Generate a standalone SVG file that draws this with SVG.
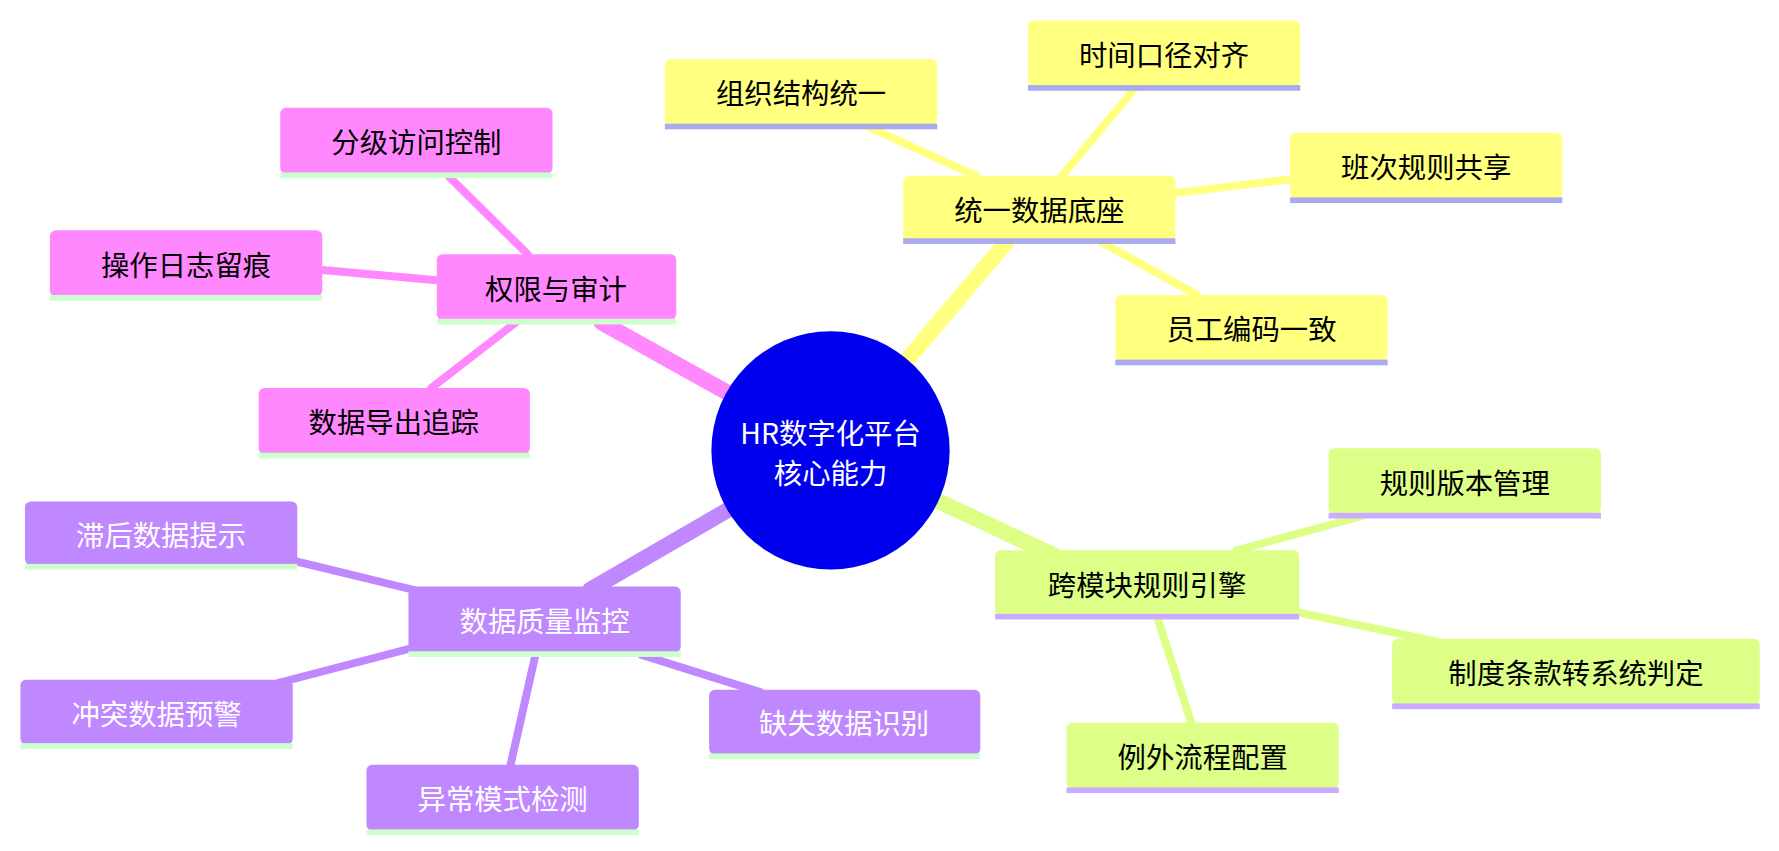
<svg xmlns="http://www.w3.org/2000/svg" width="1779" height="851" viewBox="0 0 1779 851">
<style>
text{font-family:"Noto Sans CJK SC","Noto Sans",sans-serif;font-size:25px;text-anchor:middle;dominant-baseline:central}
.y rect.b{fill:#ffff80}.p rect.b{fill:#ff88ff}.v rect.b{fill:#c088ff}.g rect.b{fill:#ddff88}
.ul1{fill:#aaaaee}.ul2{fill:#ccffcc}.ul3{fill:#ccaaff}
.v text{fill:#fff}
line{stroke-linecap:round}
</style>
<rect width="1779" height="851" fill="#fff"/>
<g transform="scale(1.1346)">
<g id="connectors" fill="none">
<line x1="732" y1="397" x2="890" y2="210" stroke="#ffff80" stroke-width="14"/>
<line x1="732" y1="397" x2="530" y2="284" stroke="#ff88ff" stroke-width="14"/>
<line x1="732" y1="397" x2="520" y2="520" stroke="#c088ff" stroke-width="14"/>
<line x1="732" y1="397" x2="930" y2="490" stroke="#ddff88" stroke-width="14"/>
<g stroke="#ffff80" stroke-width="7">
<line x1="860" y1="155" x2="766" y2="112"/><line x1="936" y1="155" x2="1000" y2="78"/>
<line x1="1036" y1="170" x2="1137" y2="158"/><line x1="970" y1="213" x2="1055" y2="260"/></g>
<g stroke="#ff88ff" stroke-width="7">
<line x1="465" y1="224" x2="395" y2="155"/><line x1="385" y1="247" x2="284" y2="238"/>
<line x1="455" y1="284" x2="380" y2="342"/></g>
<g stroke="#c088ff" stroke-width="7">
<line x1="365" y1="520" x2="262" y2="495"/><line x1="360" y1="572" x2="245" y2="602"/>
<line x1="472" y1="577" x2="450" y2="674"/><line x1="565" y1="577" x2="670" y2="610"/></g>
<g stroke="#ddff88" stroke-width="7">
<line x1="1090" y1="485" x2="1200" y2="455"/><line x1="1145" y1="540" x2="1265" y2="565"/>
<line x1="1020" y1="544" x2="1050" y2="637"/></g>
</g>
<g id="center"><circle cx="732" cy="397" r="105" fill="#0000ee"/>
<text x="732" y="380" fill="#fff">HR数字化平台</text><text x="732" y="416" fill="#fff">核心能力</text></g>
<g class="y">
<g id="n1"><rect class="b" x="796" y="155" width="240" height="58" rx="5"/><rect class="ul1" x="796" y="210" width="240" height="5"/><text x="916" y="184">统一数据底座</text></g>
<g id="n2"><rect class="b" x="586" y="52" width="240" height="58" rx="5"/><rect class="ul1" x="586" y="109" width="240" height="5"/><text x="706" y="81">组织结构统一</text></g>
<g id="n3"><rect class="b" x="906" y="18" width="240" height="58" rx="5"/><rect class="ul1" x="906" y="75" width="240" height="5"/><text x="1026" y="47">时间口径对齐</text></g>
<g id="n4"><rect class="b" x="1137" y="117" width="240" height="58" rx="5"/><rect class="ul1" x="1137" y="174" width="240" height="5"/><text x="1257" y="146">班次规则共享</text></g>
<g id="n5"><rect class="b" x="983" y="260" width="240" height="58" rx="5"/><rect class="ul1" x="983" y="317" width="240" height="5"/><text x="1103" y="289">员工编码一致</text></g>
</g>
<g class="p">
<g id="n6"><rect class="b" x="385" y="224" width="211" height="58" rx="5"/><rect class="ul2" x="385" y="281" width="211" height="5"/><text x="490" y="253">权限与审计</text></g>
<g id="n7"><rect class="b" x="247" y="95" width="240" height="58" rx="5"/><rect class="ul2" x="247" y="152" width="240" height="5"/><text x="367" y="124">分级访问控制</text></g>
<g id="n8"><rect class="b" x="44" y="203" width="240" height="58" rx="5"/><rect class="ul2" x="44" y="260" width="240" height="5"/><text x="164" y="232">操作日志留痕</text></g>
<g id="n9"><rect class="b" x="228" y="342" width="239" height="58" rx="5"/><rect class="ul2" x="228" y="399" width="239" height="5"/><text x="347" y="371">数据导出追踪</text></g>
</g>
<g class="v">
<g id="n10"><rect class="b" x="360" y="517" width="240" height="58" rx="5"/><rect class="ul2" x="360" y="574" width="240" height="5"/><text x="480" y="546">数据质量监控</text></g>
<g id="n11"><rect class="b" x="22" y="442" width="240" height="56" rx="5"/><rect class="ul2" x="22" y="497" width="240" height="5"/><text x="142" y="470">滞后数据提示</text></g>
<g id="n12"><rect class="b" x="18" y="599" width="240" height="57" rx="5"/><rect class="ul2" x="18" y="655" width="240" height="5"/><text x="138" y="628">冲突数据预警</text></g>
<g id="n13"><rect class="b" x="323" y="674" width="240" height="58" rx="5"/><rect class="ul2" x="323" y="731" width="240" height="5"/><text x="443" y="703">异常模式检测</text></g>
<g id="n14"><rect class="b" x="625" y="608" width="239" height="57" rx="5"/><rect class="ul2" x="625" y="664" width="239" height="5"/><text x="744" y="636">缺失数据识别</text></g>
</g>
<g class="g">
<g id="n15"><rect class="b" x="877" y="485" width="268" height="57" rx="5"/><rect class="ul3" x="877" y="541" width="268" height="5"/><text x="1011" y="514">跨模块规则引擎</text></g>
<g id="n16"><rect class="b" x="1171" y="395" width="240" height="58" rx="5"/><rect class="ul3" x="1171" y="452" width="240" height="5"/><text x="1291" y="424">规则版本管理</text></g>
<g id="n17"><rect class="b" x="1227" y="563" width="324" height="58" rx="5"/><rect class="ul3" x="1227" y="620" width="324" height="5"/><text x="1389" y="592">制度条款转系统判定</text></g>
<g id="n18"><rect class="b" x="940" y="637" width="240" height="58" rx="5"/><rect class="ul3" x="940" y="694" width="240" height="5"/><text x="1060" y="666">例外流程配置</text></g>
</g>
</g>
</svg>
